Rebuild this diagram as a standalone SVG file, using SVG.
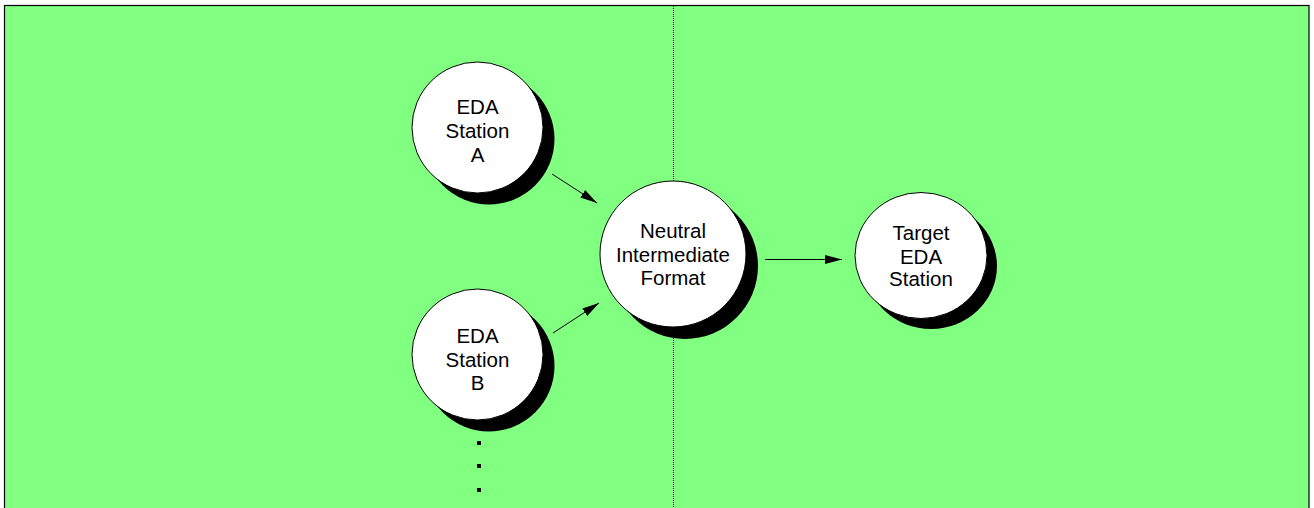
<svg xmlns="http://www.w3.org/2000/svg" width="1314" height="508" viewBox="0 0 1314 508">
<style>
.bg{fill:#80ff80;stroke:#000;stroke-width:1.2}
.shadow{fill:#000}
.node{fill:#fff;stroke:#000;stroke-width:1}
.lbl{font-family:"Liberation Sans",Arial,sans-serif;font-size:20.5px;fill:#000;text-anchor:middle}
.conn{stroke:#000;stroke-width:1;fill:none}
.dot{fill:#000}
</style>
<defs>
<marker id="ah" viewBox="0 0 17 9" refX="17" refY="4.5" markerWidth="17" markerHeight="9" markerUnits="userSpaceOnUse" orient="auto">
<path d="M0,0 L17,4.5 L0,9 Z" fill="#000"/>
</marker>
</defs>
<rect width="1314" height="508" fill="#fff"/>
<rect class="bg" x="4.5" y="5.5" width="1304.5" height="510"/>
<line x1="673.5" y1="6" x2="673.5" y2="508" stroke="#fff" stroke-width="1"/>
<line x1="673.5" y1="6" x2="673.5" y2="508" stroke="#000" stroke-width="1" stroke-dasharray="1 1"/>
<g id="connectors">
<line class="conn" x1="552" y1="174" x2="597" y2="203" marker-end="url(#ah)"/>
<line class="conn" x1="553" y1="333" x2="599" y2="303" marker-end="url(#ah)"/>
<line class="conn" x1="765" y1="259.5" x2="842" y2="259.5" marker-end="url(#ah)"/>
</g>
<g id="edaA">
<circle class="shadow" cx="489" cy="139" r="65.5"/>
<circle class="node" cx="477.5" cy="127.5" r="65.5"/>
<text class="lbl" x="477.5" y="114">EDA</text>
<text class="lbl" x="477.5" y="137.5">Station</text>
<text class="lbl" x="477.5" y="161.5">A</text>
</g>
<g id="edaB">
<circle class="shadow" cx="489" cy="366" r="65.5"/>
<circle class="node" cx="477.5" cy="354.5" r="65.5"/>
<text class="lbl" x="477.5" y="343">EDA</text>
<text class="lbl" x="477.5" y="366.5">Station</text>
<text class="lbl" x="477.5" y="390">B</text>
</g>
<g id="neutral">
<circle class="shadow" cx="685" cy="266" r="73"/>
<circle class="node" cx="673" cy="254" r="73"/>
<text class="lbl" x="673" y="238">Neutral</text>
<text class="lbl" x="673" y="262">Intermediate</text>
<text class="lbl" x="673" y="285">Format</text>
</g>
<g id="target">
<ellipse class="shadow" cx="931" cy="266" rx="66" ry="63"/>
<ellipse class="node" cx="921" cy="255.5" rx="66" ry="63"/>
<text class="lbl" x="921" y="240">Target</text>
<text class="lbl" x="921" y="264">EDA</text>
<text class="lbl" x="921" y="286">Station</text>
</g>
<g id="ellipsis">
<rect class="dot" x="477" y="441" width="4" height="4"/>
<rect class="dot" x="477" y="464" width="4" height="4"/>
<rect class="dot" x="477" y="488" width="4" height="4"/>
</g>
</svg>
